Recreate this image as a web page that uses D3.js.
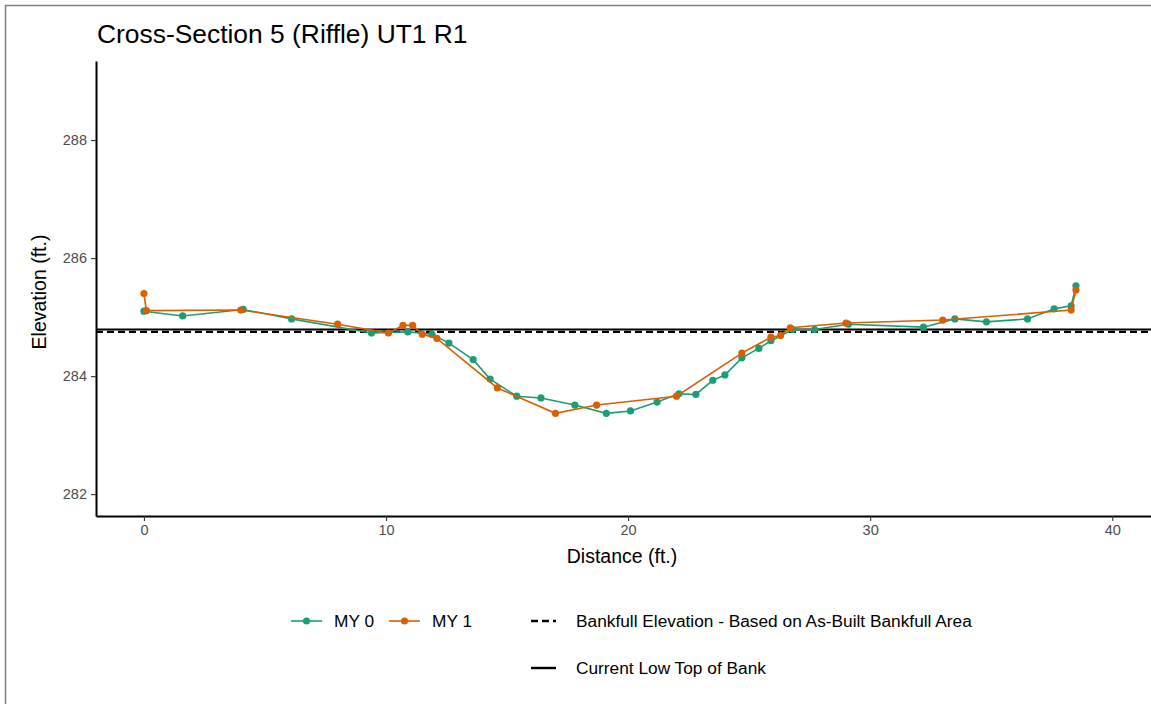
<!DOCTYPE html>
<html>
<head>
<meta charset="utf-8">
<script src="https://cdn.jsdelivr.net/npm/d3@7"></script>
<style>
  html, body { margin: 0; padding: 0; background: #fff; }
  svg { display: block; font-family: "Liberation Sans", Arial, Helvetica, sans-serif; }
</style>
</head>
<body>
<svg id="chart" width="1151" height="704"></svg>
<script>
// ---- Data ----
const title = "Cross-Section 5 (Riffle) UT1 R1";
const xLabel = "Distance (ft.)";
const yLabel = "Elevation (ft.)";

const my0Distance = [0.0, 1.6, 4.1, 6.1, 9.4, 10.9, 11.9, 12.6, 13.6, 14.3, 15.4, 16.4, 17.8, 19.1, 20.1, 21.2, 22.1, 22.8, 23.5, 24.0, 24.7, 25.4, 25.9, 26.8, 27.7, 29.1, 32.2, 33.5, 34.8, 36.5, 37.6, 38.3, 38.5];
const my0Elevation = [285.10, 285.02, 285.13, 284.97, 284.73, 284.75, 284.71, 284.56, 284.28, 283.95, 283.66, 283.63, 283.51, 283.37, 283.41, 283.56, 283.70, 283.69, 283.93, 284.02, 284.31, 284.47, 284.60, 284.79, 284.79, 284.88, 284.83, 284.97, 284.92, 284.97, 285.14, 285.19, 285.53];

const my1Distance = [0.0, 0.1, 4.0, 8.0, 10.1, 10.7, 11.1, 11.5, 12.1, 14.6, 17.0, 18.7, 22.0, 24.7, 25.9, 26.3, 26.7, 29.0, 33.0, 38.3, 38.5];
const my1Elevation = [285.40, 285.11, 285.12, 284.88, 284.73, 284.86, 284.86, 284.71, 284.64, 283.80, 283.37, 283.51, 283.66, 284.39, 284.66, 284.69, 284.82, 284.90, 284.95, 285.12, 285.46];

const bankfullElevation = 284.75;
const lowTopOfBank = 284.79;

const xTicks = [0, 10, 20, 30, 40];
const yTicks = [282, 284, 286, 288];

const seriesNames = ["MY 0", "MY 1"];
const seriesColors = ["#1B9E77", "#D95F02"];
const lineLegendLabels = ["Bankfull Elevation - Based on As-Built Bankfull Area", "Current Low Top of Bank"];

// ---- Layout ----
const svg = d3.select("#chart");
const plot = { left: 96, right: 1151, top: 61, bottom: 516 };

const x = d3.scaleLinear().domain([-1.98, 41.6]).range([plot.left, plot.right]);
const y = d3.scaleLinear().domain([281.63, 289.34]).range([plot.bottom, plot.top]);

// outer border
svg.append("rect").attr("x", 5.5).attr("y", 5.5).attr("width", 1160).attr("height", 720)
  .attr("fill", "none").attr("stroke", "#808080").attr("stroke-width", 1.5);

// title
svg.append("text").attr("x", 97).attr("y", 43)
  .attr("font-size", 26.4).attr("fill", "#000").text(title);

// clip for plot
svg.append("defs").append("clipPath").attr("id", "clip")
  .append("rect").attr("x", plot.left).attr("y", plot.top)
  .attr("width", plot.right - plot.left).attr("height", plot.bottom - plot.top);

const g = svg.append("g").attr("clip-path", "url(#clip)");

// reference lines
g.append("line").attr("x1", x.range()[0]).attr("x2", x.range()[1])
  .attr("y1", y(lowTopOfBank)).attr("y2", y(lowTopOfBank))
  .attr("stroke", "#000").attr("stroke-width", 2);
g.append("line").attr("x1", x.range()[0]).attr("x2", x.range()[1])
  .attr("y1", y(bankfullElevation)).attr("y2", y(bankfullElevation))
  .attr("stroke", "#000").attr("stroke-width", 2.4).attr("stroke-dasharray", "7,4");

// series
const series = [
  { name: seriesNames[0], color: seriesColors[0], pts: my0Distance.map((d, i) => [d, my0Elevation[i]]) },
  { name: seriesNames[1], color: seriesColors[1], pts: my1Distance.map((d, i) => [d, my1Elevation[i]]) }
];
const line = d3.line().x(d => x(d[0])).y(d => y(d[1]));

series.forEach(s => {
  g.append("path").datum(s.pts).attr("d", line)
    .attr("fill", "none").attr("stroke", s.color).attr("stroke-width", 1.6);
  g.selectAll(null).data(s.pts).enter().append("circle")
    .attr("cx", d => x(d[0])).attr("cy", d => y(d[1])).attr("r", 3.6)
    .attr("fill", s.color);
});

// axes
const xAxis = svg.append("g").attr("transform", `translate(0,${plot.bottom})`)
  .call(d3.axisBottom(x).tickValues(xTicks).tickSizeInner(5).tickSizeOuter(0).tickPadding(4).tickFormat(d3.format("d")));
const yAxis = svg.append("g").attr("transform", `translate(${plot.left},0)`)
  .call(d3.axisLeft(y).tickValues(yTicks).tickSizeInner(5).tickSizeOuter(0).tickPadding(4).tickFormat(d3.format("d")));
[xAxis, yAxis].forEach(a => {
  a.select(".domain").attr("stroke", "#000").attr("stroke-width", 2);
  a.selectAll(".tick line").attr("stroke", "#333").attr("stroke-width", 1.1);
  a.selectAll(".tick text").attr("fill", "#4d4d4d").attr("font-size", 14.5)
    .attr("font-family", "'Liberation Sans', Arial, sans-serif");
});

// axis titles
svg.append("text").attr("x", 622).attr("y", 563).attr("text-anchor", "middle")
  .attr("font-size", 19.5).attr("fill", "#000").text(xLabel);
svg.append("text").attr("transform", "translate(46,292) rotate(-90)").attr("text-anchor", "middle")
  .attr("font-size", 19.5).attr("fill", "#000").text(yLabel);

// legend
const leg = svg.append("g");
const row1 = 621, row2 = 668;
const legFont = 17.3;
const seriesKeys = [{ x1: 291, x2: 322, tx: 334 }, { x1: 389, x2: 420, tx: 432 }];
series.forEach((s, i) => {
  const k = seriesKeys[i];
  leg.append("line").attr("x1", k.x1).attr("x2", k.x2).attr("y1", row1).attr("y2", row1)
    .attr("stroke", s.color).attr("stroke-width", 1.6);
  leg.append("circle").attr("cx", (k.x1 + k.x2) / 2).attr("cy", row1).attr("r", 3.6).attr("fill", s.color);
  leg.append("text").attr("x", k.tx).attr("y", row1).attr("dy", "0.35em")
    .attr("font-size", legFont).attr("fill", "#000").text(s.name);
});
leg.append("line").attr("x1", 531).attr("x2", 556).attr("y1", row1).attr("y2", row1)
  .attr("stroke", "#000").attr("stroke-width", 2.4).attr("stroke-dasharray", "7,4");
leg.append("text").attr("x", 576).attr("y", row1).attr("dy", "0.35em")
  .attr("font-size", legFont).attr("fill", "#000").text(lineLegendLabels[0]);
leg.append("line").attr("x1", 531).attr("x2", 556).attr("y1", row2).attr("y2", row2)
  .attr("stroke", "#000").attr("stroke-width", 2.4);
leg.append("text").attr("x", 576).attr("y", row2).attr("dy", "0.35em")
  .attr("font-size", legFont).attr("fill", "#000").text(lineLegendLabels[1]);
</script>
</body>
</html>
